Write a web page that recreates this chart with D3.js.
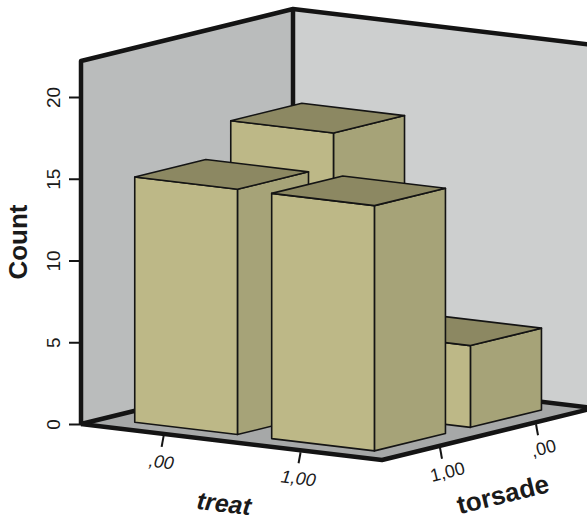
<!DOCTYPE html>
<html><head><meta charset="utf-8">
<script src="https://cdn.jsdelivr.net/npm/d3@7"></script>
<style>html,body{margin:0;background:#fff}svg{display:block}text{font-family:"Liberation Sans",Arial,sans-serif;fill:#1a1a1a}</style>
</head><body><svg width="587" height="520"></svg>
<script>
const treatCategories = [",00", "1,00"];
const torsadeCategories = ["1,00", ",00"]; // front to back
const counts00 = [15, 17];   // treat ,00  : torsade 1,00 / ,00
const counts100 = [15, 5];   // treat 1,00 : torsade 1,00 / ,00
const yTicks = [0, 5, 10, 15, 20];
const yMax = 22.2;

const svg = d3.select("svg");
const yScale = d3.scaleLinear().domain([0, 20]).range([424, 97]);
const uScale = d3.scaleBand().domain(treatCategories).range([0.002, 1.002]).paddingInner(0.25).paddingOuter(0.224);
const vScale = d3.scaleBand().domain(torsadeCategories).range([0, 1]).paddingInner(0.26).paddingOuter(0.234);

const origin = {x: 81, y: 0};
const uVec = {x: 301, y: 36};
const vVec = {x: 212, y: -52};
function P(u, v, val) {
  return [origin.x + u * uVec.x + v * vVec.x, yScale(val) + u * uVec.y + v * vVec.y];
}
const line = d3.line().curve(d3.curveLinearClosed);
const open = d3.line();
const COL = {left: "#babcbc", back: "#cdcfcf", floor: "#a6a8a8", front: "#bdb887", top: "#8c8862", side: "#a6a378", ink: "#141414"};

// walls and floor
svg.append("path").attr("d", line([P(0,0,0), P(0,0,yMax), P(0,1,yMax), P(0,1,0)])).attr("fill", COL.left);
svg.append("path").attr("d", line([P(0,1,0), P(0,1,yMax), P(1,1,yMax), P(1,1,0)])).attr("fill", COL.back);
svg.append("path").attr("d", line([P(0,0,0), P(0,1,0), P(1,1,0), P(1,0,0)])).attr("fill", COL.floor);
const frame = [
  [P(0,0,0), P(0,0,yMax), P(0,1,yMax), P(1,1,yMax)],
  [P(0,1,yMax), P(0,1,0)],
  [P(0,0,0), P(0,1,0), P(1,1,0)],
  [P(0,0,0), P(1,0,0), P(1,1,0)]
];
svg.selectAll("path.frame").data(frame).join("path").attr("class", "frame")
  .attr("d", d => open(d)).attr("fill", "none").attr("stroke", COL.ink)
  .attr("stroke-width", 4.5).attr("stroke-linejoin", "round");

// bars, back row first
const bars = [];
[1, 0].forEach(j => treatCategories.forEach((t, i) => {
  bars.push({t, s: torsadeCategories[j], value: (i === 0 ? counts00 : counts100)[j]});
}));
const g = svg.append("g");
bars.forEach(b => {
  const u0 = uScale(b.t), u1 = u0 + uScale.bandwidth();
  const v0 = vScale(b.s), v1 = v0 + vScale.bandwidth();
  const faces = [
    {c: COL.side, p: [P(u1,v0,0), P(u1,v1,0), P(u1,v1,b.value), P(u1,v0,b.value)]},
    {c: COL.front, p: [P(u0,v0,0), P(u1,v0,0), P(u1,v0,b.value), P(u0,v0,b.value)]},
    {c: COL.top, p: [P(u0,v0,b.value), P(u1,v0,b.value), P(u1,v1,b.value), P(u0,v1,b.value)]}
  ];
  g.selectAll(null).data(faces).join("path").attr("d", d => line(d.p))
    .attr("fill", d => d.c).attr("stroke", COL.ink).attr("stroke-width", 1.6).attr("stroke-linejoin", "round");
});

// count axis
const yAxis = d3.axisLeft(yScale).tickValues(yTicks).tickSize(12).tickPadding(0).tickFormat(d3.format("d"));
const ax = svg.append("g").attr("transform", `translate(${origin.x},0)`).call(yAxis);
ax.select(".domain").remove();
ax.selectAll(".tick line").attr("stroke", COL.ink).attr("stroke-width", 2);
ax.selectAll(".tick text").attr("transform", "translate(-21,0) rotate(-90)")
  .attr("x", 0).attr("y", 0).attr("dy", 0).attr("text-anchor", "middle").attr("font-size", 19);
svg.append("text").attr("transform", "translate(27,242) rotate(-90)").attr("text-anchor", "middle")
  .attr("font-size", 26).attr("font-weight", "bold").text("Count");

// treat axis
treatCategories.forEach((t, i) => {
  const u = uScale(t) + uScale.bandwidth() / 2;
  const [x, y] = P(u, 0, 0);
  svg.append("line").attr("x1", x).attr("y1", y + 2).attr("x2", x - 2).attr("y2", y + 13).attr("stroke", COL.ink).attr("stroke-width", 2);
  svg.append("text").attr("transform", `translate(${x - 3},${y + 34}) rotate(7)`).attr("text-anchor", "middle")
    .attr("font-size", 18).attr("font-style", "italic").text(t);
});
svg.append("text").attr("transform", "translate(223,512) rotate(7)").attr("text-anchor", "middle")
  .attr("font-size", 25).attr("font-weight", "bold").attr("font-style", "italic").text("treat");

// torsade axis
torsadeCategories.forEach(t => {
  const v = vScale(t) + vScale.bandwidth() / 2;
  const [x, y] = P(1, v, 0);
  svg.append("line").attr("x1", x).attr("y1", y + 2).attr("x2", x + 2).attr("y2", y + 13).attr("stroke", COL.ink).attr("stroke-width", 2);
  svg.append("text").attr("transform", `translate(${x + 9},${y + 32}) rotate(-14)`).attr("text-anchor", "middle")
    .attr("font-size", 18).text(t);
});
svg.append("text").attr("transform", "translate(505,503) rotate(-14)").attr("text-anchor", "middle")
  .attr("font-size", 26).attr("font-weight", "bold").text("torsade");
</script></body></html>
